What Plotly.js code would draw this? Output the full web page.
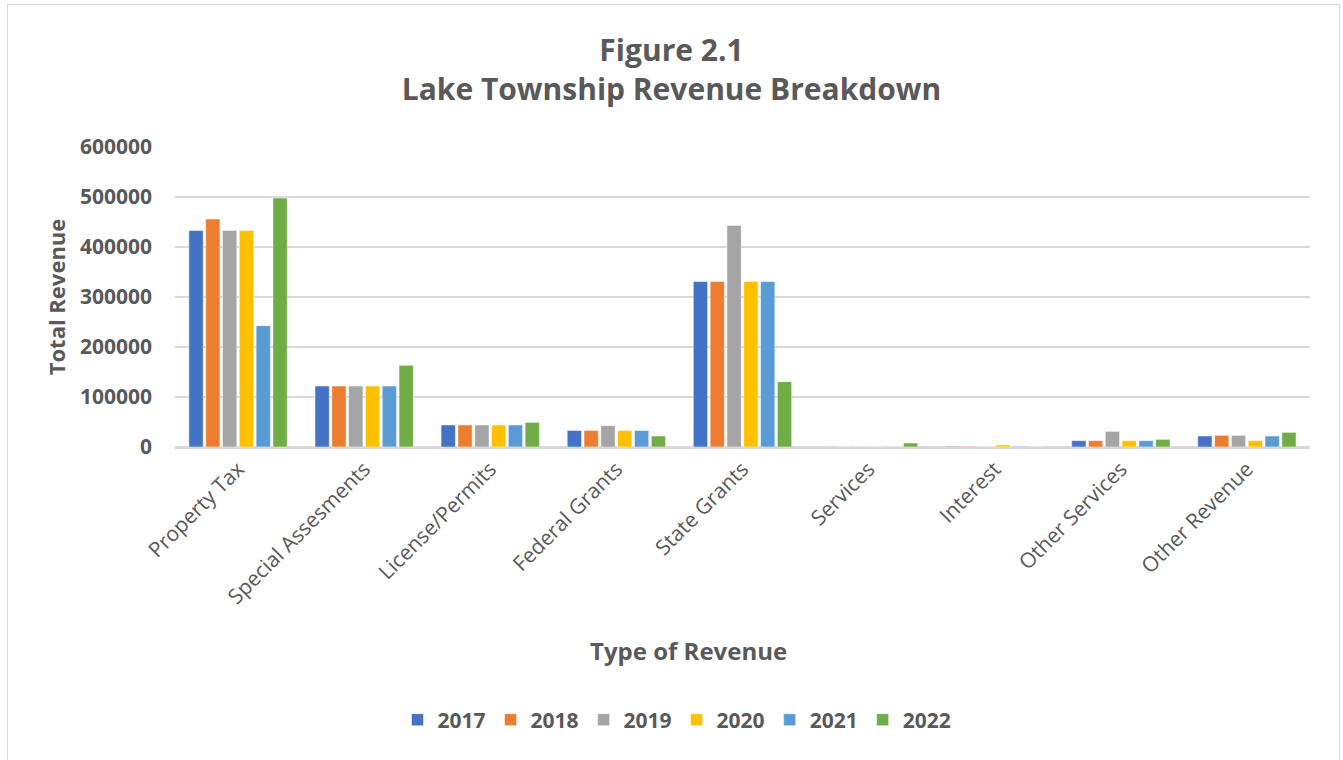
<!DOCTYPE html>
<html>
<head>
<meta charset="utf-8">
<script src="https://cdn.plot.ly/plotly-3.0.1.min.js"></script>
<style>
html,body{margin:0;padding:0;background:#fff;}
#chart{width:1343px;height:760px;}
#frame{position:absolute;left:7px;top:4px;width:1333px;height:760px;border:1px solid #d9d9d9;pointer-events:none;box-sizing:border-box;}
</style>
</head>
<body>
<div id="chart"></div>
<div id="frame"></div>
<script>
const categories = ["Property Tax","Special Assesments","License/Permits","Federal Grants","State Grants","Services","Interest","Other Services","Other Revenue"];
const years = ["2017","2018","2019","2020","2021","2022"];
const colors = ["#4472C4","#ED7D31","#A5A5A5","#FFC000","#5B9BD5","#70AD47"];
const v2017 = [433000,122000,44000,33000,331000,800,1500,12700,22000];
const v2018 = [456000,122000,44000,33000,331000,800,1500,12700,23300];
const v2019 = [433000,122000,44000,42700,443000,800,1000,31300,23300];
const v2020 = [433000,122000,44000,33000,331000,800,4000,12700,12700];
const v2021 = [242700,122000,44000,33000,331000,800,1500,12700,22000];
const v2022 = [498000,163300,49300,22000,130700,8000,500,15300,29300];
const series = [v2017,v2018,v2019,v2020,v2021,v2022];
const chartTitle = ['Figure 2.1','Lake Township Revenue Breakdown'];
const xTitle = 'Type of Revenue';
const yTitle = 'Total Revenue';

const font = '"Open Sans", "Liberation Sans", sans-serif';
const txt = '#595959';

const traces = series.map((vals,i)=>({
  type:'bar', name:'<b>'+years[i]+'</b>', x:categories, y:vals,
  marker:{color:colors[i], line:{color:'#ffffff', width:0.5}},
  hoverinfo:'y+name'
}));

const layout = {
  width:1343, height:760,
  margin:{l:175, r:33, t:147, b:313},
  paper_bgcolor:'#ffffff', plot_bgcolor:'#ffffff',
  font:{family:font, color:txt},
  title:{text:'<b>'+chartTitle[0]+'</b><br><b>'+chartTitle[1]+'</b>', x:0.5, xref:'container', xanchor:'center',
    yref:'container', y:1-61/760, yanchor:'middle', font:{family:font, size:30, color:txt}},
  barmode:'group', bargap:0.2, bargroupgap:0.15,
  xaxis:{
    tickangle:-45, tickfont:{size:21, color:txt, family:font},
    showgrid:false, showline:true, linecolor:'#d9d9d9', linewidth:1.5, ticks:'',
    automargin:false
  },
  yaxis:{
    range:[0,600000], dtick:100000, tickformat:'d',
    tickfont:{size:21, color:txt, family:font},
    tickprefix:'<b>', ticksuffix:'</b>',
    gridcolor:'#d9d9d9', gridwidth:1.5, zeroline:true, zerolinecolor:'#d9d9d9', zerolinewidth:1.5,
    showline:false, ticks:'', ticklabelstandoff:22,
    title:{text:'<b>'+yTitle+'</b>', font:{size:22, color:txt, family:font}, standoff:8},
    automargin:false
  },
  annotations:[{
    text:'<b>'+xTitle+'</b>', xref:'paper', yref:'paper', x:(688-175)/1135, y:(447-650)/300,
    xanchor:'center', yanchor:'middle', showarrow:false, font:{size:24, color:txt, family:font}
  }],
  legend:{orientation:'h', x:(677-175)/1135, xanchor:'center', y:-0.91, yanchor:'middle',
    font:{size:21, color:txt, family:font}, traceorder:'normal'},
  showlegend:true
};

Plotly.newPlot('chart', traces, layout, {displayModeBar:false, staticPlot:true});
</script>
</body>
</html>
